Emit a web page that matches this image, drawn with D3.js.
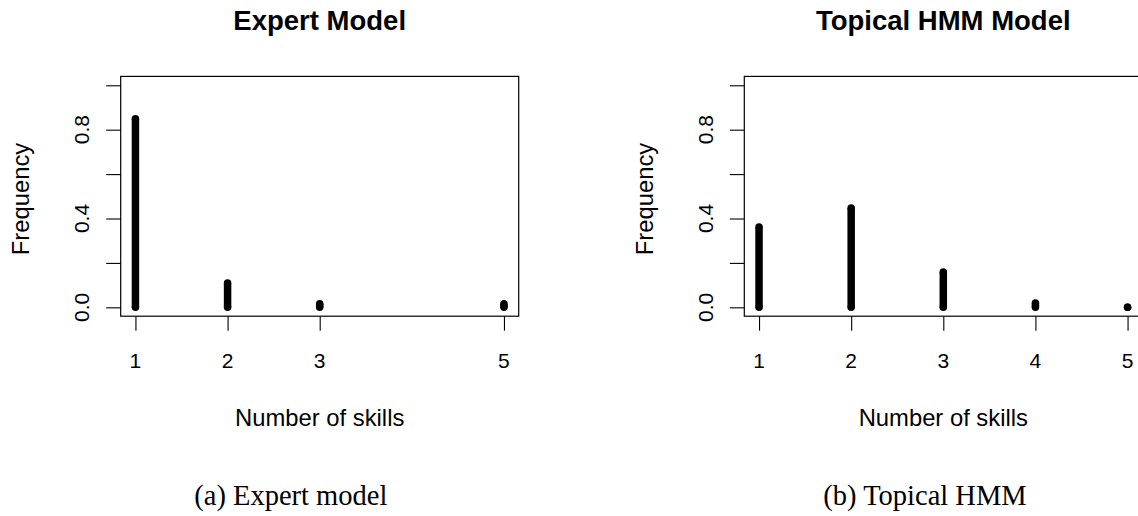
<!DOCTYPE html>
<html>
<head>
<meta charset="utf-8">
<title>Number of skills</title>
<script src="https://cdn.jsdelivr.net/npm/d3@7"></script>
<style>
  body { margin: 0; background: #fff; }
  text { font-family: "Liberation Sans", Arial, Helvetica, sans-serif; fill: #000; }
  .caption { font-family: "Liberation Serif", "Times New Roman", serif; font-size: 28.5px; }
</style>
</head>
<body>
<svg id="chart" width="1138" height="516"></svg>
<script>
  // values (top of each column of points)
  var expertSkills = [1, 2, 3, 5]
  var expertFreq = [0.849, 0.109, 0.016, 0.016]
  var hmmSkills = [1, 2, 3, 4, 5]
  var hmmFreq = [0.362, 0.447, 0.159, 0.019, 0.0]

  var yTicks = [0, 0.2, 0.4, 0.6, 0.8, 1.0]
  var yLabels = ["0.0", "", "0.4", "", "0.8", ""]
  var expertTicks = [1, 2, 3, 5]
  var hmmTicks = [1, 2, 3, 4, 5]

  var svg = d3.select("#chart")

  function panel(left, title, caption, capX, skills, freq, ticks) {
    var x0 = left, x1 = left + 398, y0 = 76.4, y1 = 316.2
    var x = d3.scaleLinear().domain([0.84, 5.16]).range([x0, x1])
    var y = d3.scaleLinear().domain([-0.04, 1.04]).range([y1, y0])
    var g = svg.append("g")

    // columns of points -> thick rounded strokes
    var r = 3.75
    g.selectAll("line.col").data(skills).enter().append("line")
      .attr("class", "col")
      .attr("x1", function (d) { return x(d) })
      .attr("x2", function (d) { return x(d) })
      .attr("y1", y(0))
      .attr("y2", function (d, i) { return y(freq[i]) })
      .attr("stroke", "#000")
      .attr("stroke-width", 2 * r)
    g.selectAll("circle.lo").data(skills).enter().append("circle")
      .attr("cx", function (d) { return x(d) })
      .attr("cy", y(0))
      .attr("r", r)
    g.selectAll("circle.hi").data(skills).enter().append("circle")
      .attr("cx", function (d) { return x(d) })
      .attr("cy", function (d, i) { return y(freq[i]) })
      .attr("r", r)

    // box
    g.append("rect")
      .attr("x", x0).attr("y", y0)
      .attr("width", x1 - x0).attr("height", y1 - y0)
      .attr("fill", "none").attr("stroke", "#000").attr("stroke-width", 1.2)

    // axes (ticks only, R style)
    var ya = g.append("g").attr("transform", "translate(" + x0 + ",0)")
      .call(d3.axisLeft(y).tickValues(yTicks).tickSize(14.5).tickFormat(""))
    ya.select(".domain").remove()
    ya.selectAll("line").attr("stroke-width", 1.1)
    var xa = g.append("g").attr("transform", "translate(0," + y1 + ")")
      .call(d3.axisBottom(x).tickValues(ticks).tickSize(14.5).tickFormat(""))
    xa.select(".domain").remove()
    xa.selectAll("line").attr("stroke-width", 1.1)

    yTicks.forEach(function (v, i) {
      if (yLabels[i] == "") return
      g.append("text")
        .attr("transform", "translate(" + (x0 - 31.4) + "," + y(v) + ") rotate(-90)")
        .attr("text-anchor", "middle")
        .style("font-size", "21px")
        .text(yLabels[i])
    })
    ticks.forEach(function (v) {
      g.append("text")
        .attr("x", x(v)).attr("y", 368)
        .attr("text-anchor", "middle")
        .style("font-size", "21px")
        .text(v)
    })

    g.append("text")
      .attr("x", (x0 + x1) / 2).attr("y", 426)
      .attr("text-anchor", "middle")
      .style("font-size", "23.8px")
      .text("Number of skills")
    g.append("text")
      .attr("transform", "translate(" + (x0 - 91.7) + ",199) rotate(-90)")
      .attr("text-anchor", "middle")
      .style("font-size", "23.8px")
      .text("Frequency")
    g.append("text")
      .attr("x", (x0 + x1) / 2).attr("y", 30)
      .attr("text-anchor", "middle")
      .style("font-size", "27.5px")
      .style("font-weight", "bold")
      .text(title)
    g.append("text")
      .attr("class", "caption")
      .attr("x", capX).attr("y", 505)
      .attr("text-anchor", "middle")
      .text(caption)
  }

  panel(120.7, "Expert Model", "(a) Expert model", 290.8, expertSkills, expertFreq, expertTicks)
  panel(744.3, "Topical HMM Model", "(b) Topical HMM", 925, hmmSkills, hmmFreq, hmmTicks)
</script>
</body>
</html>
